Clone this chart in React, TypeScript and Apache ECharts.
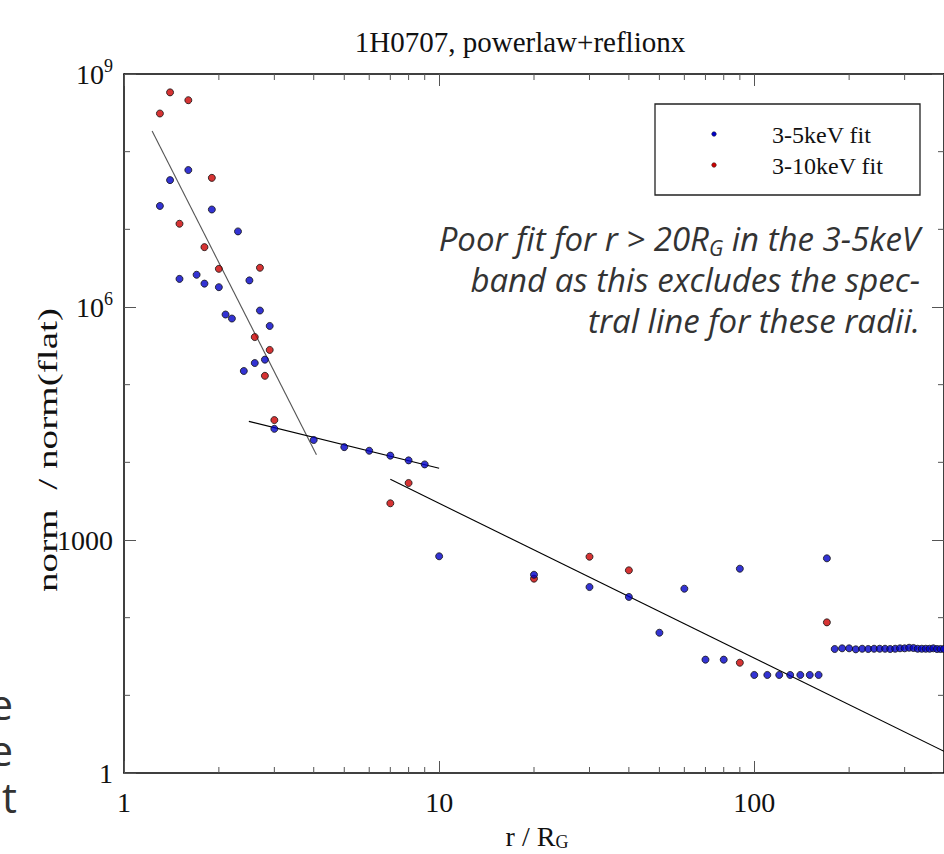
import React, { useEffect, useRef } from "react";
import * as echarts from "echarts";

// ---------- data ----------
const blueR = [
  1.3, 1.4, 1.5, 1.6, 1.7, 1.8, 1.9, 2.0, 2.1, 2.2, 2.3, 2.4, 2.5, 2.6, 2.7, 2.8, 2.9, 3.0,
  4, 5, 6, 7, 8, 9, 10, 20, 30, 40, 50, 60, 70, 80, 90,
  100, 110, 120, 130, 140, 150, 160, 170,
  180, 190, 200, 210, 220, 230, 240, 250, 260, 270, 280, 290, 300, 310, 320, 330, 340, 350, 360, 370, 380, 390, 400,
];
const blueNorm = [
  2.0e7, 4.3e7, 2.3e6, 5.8e7, 2.6e6, 2.0e6, 1.8e7, 1.8e6, 8.0e5, 7.1e5, 9.4e6, 1.5e5, 2.2e6, 1.9e5, 9.0e5, 2.1e5, 5.7e5, 2.7e4,
  1.94e4, 1.57e4, 1.41e4, 1.22e4, 1.06e4, 9.4e3, 617, 357, 248, 185, 64, 236, 28.8, 28.8, 427,
  18.3, 18.3, 18.3, 18.3, 18.3, 18.3, 18.3, 581,
  39.5, 40.3, 40.3, 39.1, 39.8, 39.5, 39.8, 39.8, 39.8, 39.5, 39.8, 40.3, 40.3, 41.0, 40.7, 39.8, 39.8, 39.8, 39.8, 40.3, 39.5, 39.5, 39.5,
];
const redR = [1.3, 1.4, 1.5, 1.6, 1.8, 1.9, 2.0, 2.6, 2.7, 2.8, 2.9, 3.0, 7, 8, 20, 30, 40, 90, 170];
const redNorm = [3.1e8, 5.8e8, 1.18e7, 4.6e8, 5.9e6, 4.6e7, 3.1e6, 4.1e5, 3.2e6, 1.3e5, 2.8e5, 3.5e4, 2970, 5420, 318, 609, 407, 26.3, 87];

const fit1R = [1.228, 4.08];
const fit1Norm = [1.84e8, 1.25e4];
const fit2R = [2.49, 10];
const fit2Norm = [3.37e4, 8.37e3];
const fit3R = [7, 400];
const fit3Norm = [6.04e3, 1.9];

const xMinorTicks = [2, 3, 4, 5, 6, 7, 8, 9, 20, 30, 40, 50, 60, 70, 80, 90, 200, 300];
const yMinorTicks = [10, 100, 1e4, 1e5, 1e7, 1e8];

const seriesNames = ["3-5keV fit", "3-10keV fit"];
const titleText = "1H0707, powerlaw+reflionx";
const yAxisName = "norm  / norm(flat)";
const noteLine1a = "Poor fit for r > 20R";
const noteLine1sub = "G";
const noteLine1b = " in the 3-5keV";
const noteLine2 = "band as this excludes the spec-";
const noteLine3 = "tral line for these radii.";
const cutLetters = ["e", "e", "t"];

const X_MIN = 1;
const X_MAX = 400;
const Y_MIN = 1;
const Y_MAX = 1e9;

const SERIF = '"Liberation Serif", "Times New Roman", serif';
const SANS = '"Open Sans", "Noto Sans", sans-serif';
const BLUE = "#0000c8";
const RED = "#cc0000";

const pairs = (xs: number[], ys: number[]) => xs.map((x, i) => [x, ys[i]]);

export default function App() {
  const ref = useRef<HTMLDivElement>(null);

  useEffect(() => {
    if (!ref.current) return;
    const chart = echarts.init(ref.current, null, { renderer: "svg" });

    const tickStyle = { color: "#555", width: 1 };
    const axisLineStyle = { color: "#000", width: 1.5 };

    const xAxisBase = {
      type: "log",
      logBase: 10,
      min: X_MIN,
      max: X_MAX,
      interval: 1,
      axisLine: { show: true, onZero: false, lineStyle: axisLineStyle },
      axisTick: { show: true, inside: true, length: 12, lineStyle: tickStyle },
      splitLine: { show: false },
      minorTick: { show: false },
      minorSplitLine: { show: false },
    };
    const yAxisBase = {
      type: "log",
      logBase: 10,
      min: Y_MIN,
      max: Y_MAX,
      interval: 3,
      axisLine: { show: true, onZero: false, lineStyle: axisLineStyle },
      axisTick: { show: true, inside: true, length: 12, lineStyle: tickStyle },
      splitLine: { show: false },
      minorTick: { show: false },
      minorSplitLine: { show: false },
    };

    const fitLine = (xs: number[], ys: number[], color: string) => ({
      type: "line",
      data: pairs(xs, ys),
      showSymbol: false,
      symbol: "none",
      silent: true,
      clip: false,
      z: 2,
      lineStyle: { color, width: 1.1 },
    });

    const NOTE_SIZE = 33;
    const NOTE_LH = 41;

    const option: any = {
      animation: false,
      backgroundColor: "#ffffff",
      grid: { left: 124, top: 74, width: 826, height: 699, show: false },
      xAxis: [
        {
          ...xAxisBase,
          position: "bottom",
          axisLabel: {
            show: true,
            margin: 15,
            fontFamily: SERIF,
            fontSize: 28,
            color: "#111",
            showMaxLabel: false,
            formatter: (v: number) => String(Math.round(v)),
          },
        },
        { ...xAxisBase, position: "top", axisLabel: { show: false } },
      ],
      yAxis: [
        {
          ...yAxisBase,
          position: "left",
          axisLabel: {
            show: true,
            margin: 11,
            fontFamily: SERIF,
            fontSize: 28,
            color: "#111",
            formatter: (v: number) => {
              const e = Math.round(Math.log10(v));
              if (e <= 3) return String(Math.round(v));
              return `{b|10}{s|${e}}`;
            },
            rich: {
              b: { fontFamily: SERIF, fontSize: 28, color: "#111" },
              s: { fontFamily: SERIF, fontSize: 18, color: "#111", padding: [0, 0, 17, 0] },
            },
          },
        },
        { ...yAxisBase, position: "right", axisLabel: { show: false } },
      ],
      series: [
        fitLine(fit1R, fit1Norm, "#555"),
        fitLine(fit2R, fit2Norm, "#000"),
        fitLine(fit3R, fit3Norm, "#000"),
        {
          name: seriesNames[1],
          type: "scatter",
          data: pairs(redR, redNorm),
          symbol: "circle",
          symbolSize: 7,
          z: 3,
          itemStyle: { color: RED, borderColor: "#111", borderWidth: 1 },
        },
        {
          name: seriesNames[0],
          type: "scatter",
          data: pairs(blueR, blueNorm),
          symbol: "circle",
          symbolSize: 7,
          z: 4,
          itemStyle: { color: BLUE, borderColor: "#111", borderWidth: 1 },
        },
        {
          type: "custom",
          data: xMinorTicks.map((v) => [v, Y_MIN]),
          renderItem: (params: any, api: any) => {
            const v = api.value(0);
            const b = api.coord([v, Y_MIN]);
            const t = api.coord([v, Y_MAX]);
            return {
              type: "group",
              children: [
                { type: "line", shape: { x1: b[0], y1: b[1], x2: b[0], y2: b[1] - 6 }, style: { stroke: "#555", lineWidth: 1 } },
                { type: "line", shape: { x1: t[0], y1: t[1], x2: t[0], y2: t[1] + 6 }, style: { stroke: "#555", lineWidth: 1 } },
              ],
            };
          },
          clip: false,
          silent: true,
          z: 1,
        },
        {
          type: "custom",
          data: yMinorTicks.map((v) => [X_MIN, v]),
          renderItem: (params: any, api: any) => {
            const v = api.value(1);
            const l = api.coord([X_MIN, v]);
            const r = api.coord([X_MAX, v]);
            return {
              type: "group",
              children: [
                { type: "line", shape: { x1: l[0], y1: l[1], x2: l[0] + 6, y2: l[1] }, style: { stroke: "#555", lineWidth: 1 } },
                { type: "line", shape: { x1: r[0], y1: r[1], x2: r[0] - 6, y2: r[1] }, style: { stroke: "#555", lineWidth: 1 } },
              ],
            };
          },
          clip: false,
          silent: true,
          z: 1,
        },
      ],
      graphic: [
        {
          type: "text",
          style: { text: titleText, x: 520, y: 42, fontFamily: SERIF, fontSize: 29, fill: "#111", textAlign: "center", textVerticalAlign: "middle" },
        },
        // legend
        {
          type: "rect",
          shape: { x: 655, y: 104, width: 265, height: 91 },
          style: { fill: "#fff", stroke: "#222", lineWidth: 1.3 },
          z: 10,
        },
        { type: "circle", shape: { cx: 714, cy: 134, r: 2.3 }, style: { fill: BLUE, stroke: "#222", lineWidth: 0.5 }, z: 11 },
        { type: "circle", shape: { cx: 714, cy: 165, r: 2.3 }, style: { fill: RED, stroke: "#222", lineWidth: 0.5 }, z: 11 },
        {
          type: "text",
          z: 11,
          style: {
            text: seriesNames.join("\n"),
            x: 772,
            y: 119,
            fontFamily: SERIF,
            fontSize: 24,
            lineHeight: 31,
            fill: "#111",
            textAlign: "left",
            textVerticalAlign: "top",
          },
        },
        // annotation (one block, right aligned, subscript G)
        {
          type: "text",
          style: {
            text: `{a|${noteLine1a}}{s|${noteLine1sub}}{a|${noteLine1b}}\n{a|${noteLine2}}\n{a|${noteLine3}}`,
            x: 920,
            y: 217.5,
            textAlign: "right",
            textVerticalAlign: "top",
            rich: {
              a: { fontFamily: SANS, fontStyle: "italic", fontSize: NOTE_SIZE, lineHeight: NOTE_LH, fill: "#333" },
              s: { fontFamily: SANS, fontStyle: "italic", fontSize: 21, lineHeight: 21, fill: "#333", verticalAlign: "bottom" },
            },
          },
        },
        // axis names
        {
          type: "text",
          x: 48,
          y: 450,
          rotation: Math.PI / 2,
          scaleX: 1.4,
          style: { text: yAxisName, x: 0, y: 0, fontFamily: SERIF, fontSize: 28, fill: "#111", textAlign: "center", textVerticalAlign: "middle" },
        },
        {
          type: "text",
          style: {
            text: "{a|r / R}{b|G}",
            x: 537,
            y: 836,
            textAlign: "center",
            textVerticalAlign: "middle",
            rich: {
              a: { fontFamily: SERIF, fontSize: 28, fill: "#111" },
              b: { fontFamily: SERIF, fontSize: 18, fill: "#111", padding: [12, 0, 0, 0] },
            },
          },
        },
        // cropped letters at the left edge (one block)
        {
          type: "text",
          style: {
            text: cutLetters.map((c) => (c === "t" ? `{t|${c}}` : `{e|${c}}`)).join("\n"),
            x: 17,
            y: 680,
            textAlign: "right",
            textVerticalAlign: "top",
            rich: {
              e: { fontFamily: SANS, fontSize: 42, lineHeight: 46.5, fill: "#333", padding: [0, 4, 0, 0] },
              t: { fontFamily: SANS, fontSize: 42, lineHeight: 46.5, fill: "#333" },
            },
          },
        },
      ],
    };

    chart.setOption(option);
    return () => chart.dispose();
  }, []);

  return <div ref={ref} style={{ position: "absolute", left: 0, top: 0, width: 944, height: 854 }} />;
}
